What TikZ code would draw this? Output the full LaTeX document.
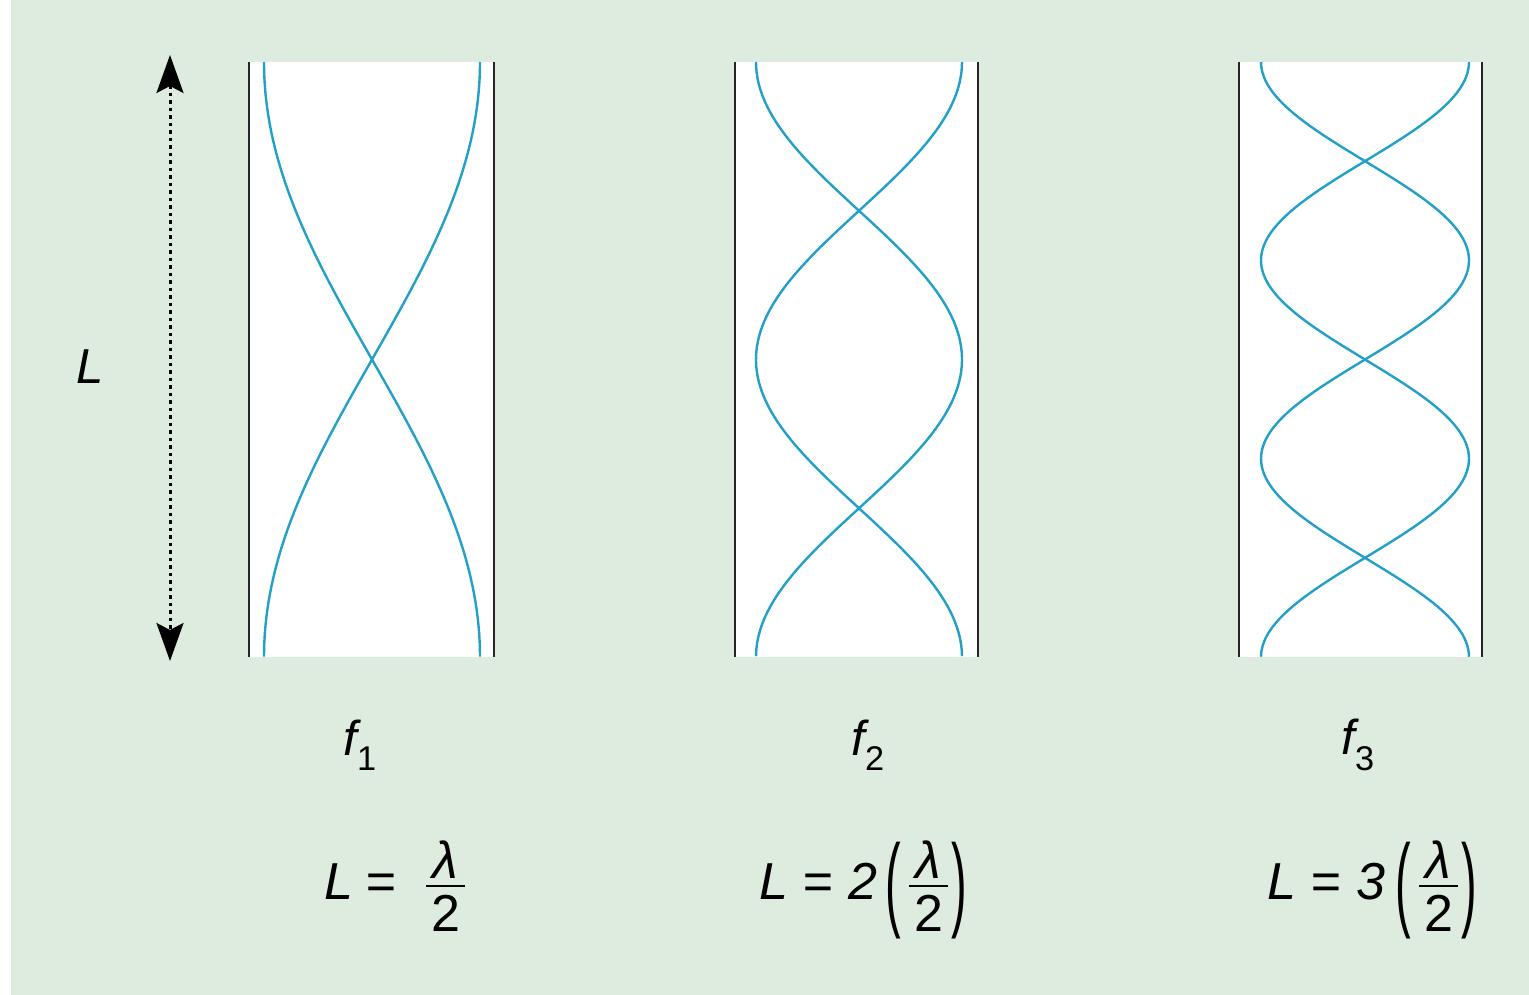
\documentclass[tikz,border=0pt]{standalone}
\usepackage{fontspec}
\setmainfont{Liberation Sans}
\usetikzlibrary{arrows.meta}
\definecolor{bggreen}{RGB}{221,236,222}
\definecolor{wave}{RGB}{35,160,200}
\newcommand{\wfrac}[2]{{\setlength{\arrayrulewidth}{2.5pt}%
  \begin{tabular}{@{\hspace{5pt}}c@{\hspace{5pt}}}#1\\[-12pt]\hline\rule{0pt}{44pt}#2\end{tabular}}}
\newcommand{\lpar}{\raisebox{-18pt}{\scalebox{0.9}[2]{\upshape(}}}
\newcommand{\rpar}{\raisebox{-18pt}{\scalebox{0.9}[2]{\upshape)}}}
\begin{document}
\begin{tikzpicture}[x=1pt,y=-1pt,
  wall/.style={black!85,line width=2.6pt},
  wavecurve/.style={wave,line width=2.4pt},
  lbl/.style={font=\fontsize{49}{58}\selectfont\itshape,inner sep=0pt},
  eq/.style={font=\fontsize{52}{60}\selectfont\itshape,inner sep=0pt}]
\useasboundingbox (0,0) rectangle (1529,995);
\fill[white] (0,0) rectangle (1529,995);
\fill[bggreen] (11,0) rectangle (1529,995);
% tubes
\foreach \lx/\rx in {248/495, 734/979, 1238/1483}{
  \fill[white] (\lx,62) rectangle (\rx,657);
  \draw[wall] (\lx+1,62) -- (\lx+1,657);
  \draw[wall] (\rx-1,62) -- (\rx-1,657);
}
% waves
\draw[wavecurve] plot[domain=0:1,samples=90] ({372+108*cos(180*\x)},{62+595*\x});
\draw[wavecurve] plot[domain=0:1,samples=90] ({372-108*cos(180*\x)},{62+595*\x});
\draw[wavecurve] plot[domain=0:1,samples=120] ({859+103*cos(360*\x)},{62+595*\x});
\draw[wavecurve] plot[domain=0:1,samples=120] ({859-103*cos(360*\x)},{62+595*\x});
\draw[wavecurve] plot[domain=0:1,samples=160] ({1365+104*cos(540*\x)},{62+595*\x});
\draw[wavecurve] plot[domain=0:1,samples=160] ({1365-104*cos(540*\x)},{62+595*\x});
% length arrow
\coordinate (atop) at (170,55);
\coordinate (abot) at (170,661);
\draw[black,line width=3pt,dash pattern=on 3.5pt off 4pt,
  {Stealth[length=38pt,width=27pt,inset=7pt]}-{Stealth[length=38pt,width=27pt,inset=7pt]}]
  (atop) -- (abot);
\node[lbl] (Llab) at (90,367) {L};
% frequency labels
\node[lbl] (f1) at (360,745) {f\textsubscript{\upshape 1}};
\node[lbl] (f2) at (868,745) {f\textsubscript{\upshape 2}};
\node[lbl] (f3) at (1358,745) {f\textsubscript{\upshape 3}};
% equations
\node[eq] (e1) at (395,893) {L\hspace{12pt}=\hspace{30pt}\wfrac{\itshape λ}{\upshape 2}};
\node[eq] (e2) at (863,893) {L\hspace{14pt}=\hspace{16pt}2\hspace{8pt}\lpar\hspace{8pt}\wfrac{\itshape λ}{\upshape 2}\hspace{3pt}\rpar};
\node[eq] (e3) at (1372,893) {L\hspace{14pt}=\hspace{16pt}3\hspace{10pt}\lpar\hspace{8pt}\wfrac{\itshape λ}{\upshape 2}\hspace{3pt}\rpar};
\end{tikzpicture}
\end{document}
